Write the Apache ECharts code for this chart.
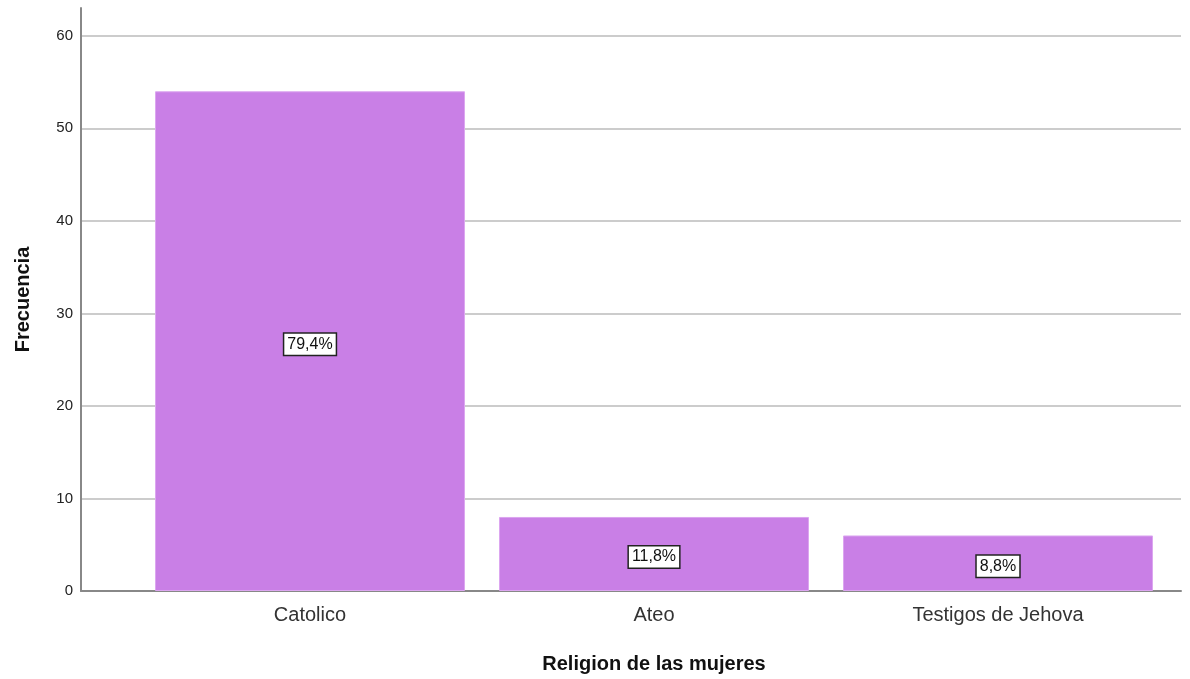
<!DOCTYPE html>
<html>
<head>
<meta charset="utf-8">
<script src="https://cdn.jsdelivr.net/npm/echarts@6/dist/echarts.min.js"></script>
<style>html,body{margin:0;padding:0;background:#fff}#c{width:1190px;height:679px}</style>
</head>
<body>
<div id="c"></div>
<script>
const categories = ['Catolico', 'Ateo', 'Testigos de Jehova'];
const frequencies = [54, 8, 6];
const percentLabels = ['79,4%', '11,8%', '8,8%'];
const yTicks = [0, 10, 20, 30, 40, 50, 60];

const chart = echarts.init(document.getElementById('c'));
const font = '"Liberation Sans", Arial, sans-serif';
chart.setOption({
  animation: false,
  grid: [
    { left: 81, right: 9, top: 8, bottom: 88, containLabel: false, outerBoundsMode: 'none' },
    { left: 138, right: 20, top: 8, bottom: 88, containLabel: false, outerBoundsMode: 'none' }
  ],
  xAxis: [
    { gridIndex: 0, type: 'category', data: [''], axisLine: { lineStyle: { color: '#888', width: 2 } },
      axisTick: { show: false }, axisLabel: { show: false } },
    { gridIndex: 1, type: 'category', data: categories,
      axisLine: { show: false }, axisTick: { show: false },
      axisLabel: { fontFamily: font, fontSize: 20, color: '#333', margin: 14 },
      name: 'Religion de las mujeres', nameLocation: 'middle', nameGap: 63,
      nameTextStyle: { fontFamily: font, fontSize: 20, fontWeight: 'bold', color: '#111' } }
  ],
  yAxis: [
    { gridIndex: 0, type: 'value', min: 0, max: 63, interval: 10,
      axisLine: { show: true, lineStyle: { color: '#888', width: 2 } }, axisTick: { show: false },
      axisLabel: { fontFamily: font, fontSize: 15, color: '#222', margin: 8, showMaxLabel: false,
        formatter: v => yTicks.includes(v) ? String(v) : '' },
      splitLine: { show: true, showMaxLine: false, lineStyle: { color: '#cccccc', width: 2 } },
      name: 'Frecuencia', nameLocation: 'middle', nameGap: 48,
      nameTextStyle: { fontFamily: font, fontSize: 20, fontWeight: 'bold', color: '#111' } },
    { gridIndex: 1, type: 'value', min: 0, max: 63, interval: 10, show: false, splitLine: { show: false } }
  ],
  series: [{
    type: 'bar', xAxisIndex: 1, yAxisIndex: 1,
    data: frequencies, barWidth: 310,
    itemStyle: { color: '#c97fe6', borderColor: '#dca6f0', borderWidth: 1 },
    label: { show: true, position: 'inside', offset: [0, 3], formatter: p => percentLabels[p.dataIndex],
      fontFamily: font, fontSize: 16, color: '#111', backgroundColor: '#fff',
      borderColor: '#222', borderWidth: 1.5, padding: [3, 3, 2, 3] }
  }]
});
</script>
</body>
</html>
